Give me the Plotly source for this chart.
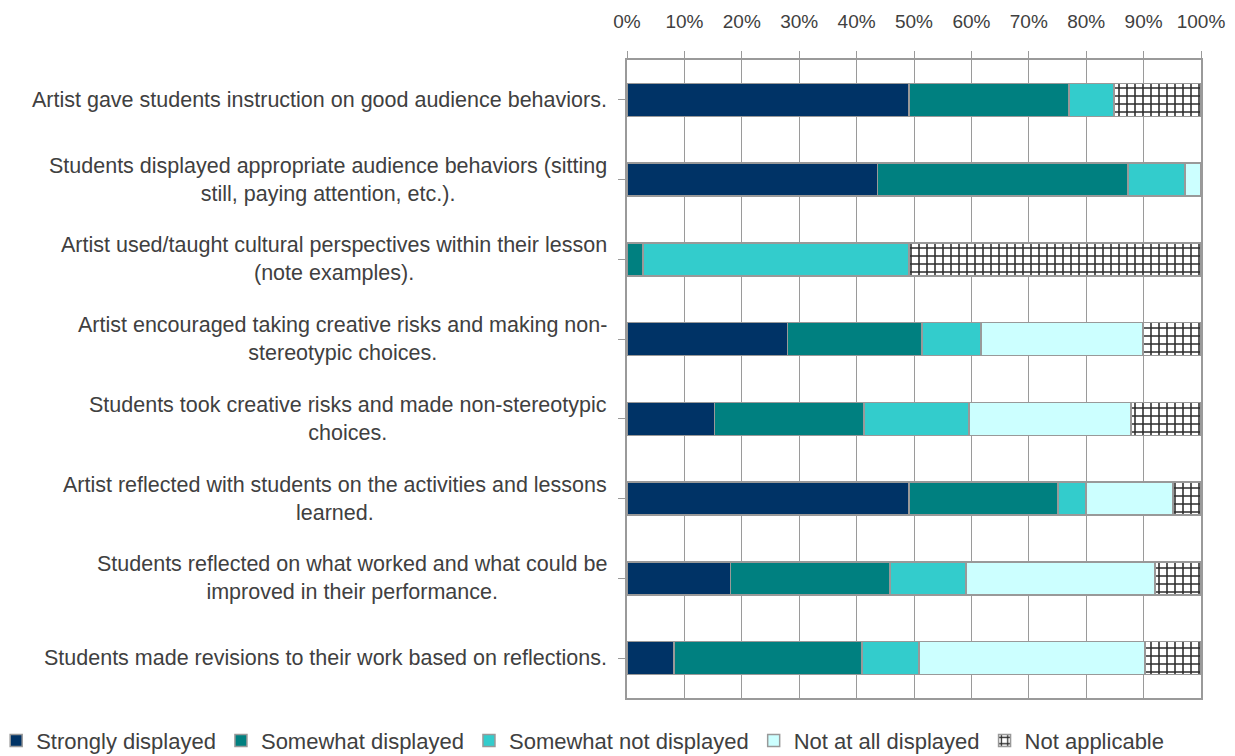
import plotly.graph_objects as go

# Survey items (top to bottom) and the share of observations per rating
items = [
    "Artist gave students instruction on good audience behaviors.",
    "Students displayed appropriate audience behaviors (sitting<br>still, paying attention, etc.).",
    "Artist used/taught cultural perspectives within their lesson<br>(note examples).",
    "Artist encouraged taking creative risks and making non-<br>stereotypic choices.",
    "Students took creative risks and made non-stereotypic<br>choices.",
    "Artist reflected with students on the activities and lessons<br>learned.",
    "Students reflected on what worked and what could be<br>improved in their performance.",
    "Students made revisions to their work based on reflections.",
]

strongly = [49.1, 43.6, 0.0, 28.0, 15.2, 49.1, 18.0, 8.2]
somewhat = [27.9, 43.7, 2.8, 23.4, 26.1, 26.0, 27.8, 32.7]
somewhat_not = [7.8, 9.9, 46.3, 10.3, 18.3, 4.9, 13.3, 10.0]
not_at_all = [0.0, 2.8, 0.0, 28.2, 28.2, 15.1, 32.9, 39.3]
not_applicable = [15.2, 0.0, 50.9, 10.1, 12.2, 4.9, 8.0, 9.8]

x_ticks = [0, 10, 20, 30, 40, 50, 60, 70, 80, 90, 100]
x_tick_text = [f"{t}%" for t in x_ticks]

series = [
    ("Strongly displayed", strongly, "#003366", None),
    ("Somewhat displayed", somewhat, "#008080", None),
    ("Somewhat not displayed", somewhat_not, "#33CCCC", None),
    ("Not at all displayed", not_at_all, "#CCFFFF", None),
    ("Not applicable", not_applicable, "#FFFFFF", "+"),
]

FONT = "Liberation Sans"
TEXT = "#404040"
GRID = "#9a9a9a"

fig = go.Figure()
cats = list(range(len(items)))
for name, vals, color, pattern in series:
    marker = dict(color=color, line=dict(color="#999999", width=1.5))
    if pattern:
        marker["pattern"] = dict(shape=pattern, size=8, solidity=0.35,
                                 fgcolor="#2b2b2b", bgcolor="#FFFFFF",
                                 fillmode="replace")
    fig.add_trace(go.Bar(
        name=name, y=cats, x=vals, orientation="h", marker=marker,
    ))

# Category labels, centred line by line and right-aligned to the axis
for i, label in enumerate(items):
    fig.add_annotation(
        x=0, xref="paper", xanchor="right", xshift=-18,
        y=i, yref="y", yanchor="middle",
        text=label, showarrow=False, align="center",
        font=dict(family=FONT, size=21.5, color=TEXT),
    )

fig.update_layout(
    width=1235, height=756,
    margin=dict(l=627, r=34, t=60, b=58, autoexpand=False),
    barmode="stack", bargap=0.585,
    plot_bgcolor="white", paper_bgcolor="white",
    font=dict(family=FONT, size=19, color=TEXT),
    showlegend=True,
    legend=dict(
        orientation="h", xref="paper", yref="paper",
        x=-1.099, xanchor="left", y=-0.067, yanchor="middle",
        font=dict(family=FONT, size=22, color=TEXT),
        itemwidth=30, tracegroupgap=0, traceorder="normal",
    ),
    xaxis=dict(
        side="top", range=[0, 100], tickvals=x_ticks, ticktext=x_tick_text,
        showgrid=True, gridcolor=GRID, gridwidth=1,
        showline=True, linecolor=GRID, linewidth=1.5, mirror=True,
        ticks="outside", ticklen=7, tickcolor=GRID,
        ticklabelstandoff=16, zeroline=False,
        tickfont=dict(family=FONT, size=19, color=TEXT),
    ),
    yaxis=dict(
        autorange="reversed", tickvals=cats, showticklabels=False,
        showgrid=False, zeroline=False,
        showline=True, linecolor=GRID, linewidth=1.5, mirror=True,
        ticks="outside", ticklen=7, tickcolor=GRID, tickson="boundaries",
        range=[len(items) - 0.5, -0.5],
    ),
)

fig.write_html("out.html")
